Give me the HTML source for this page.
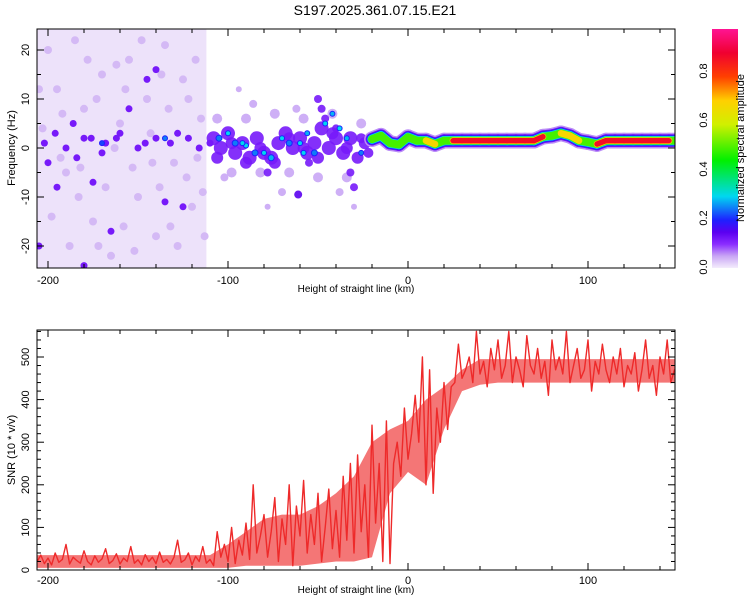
<!DOCTYPE html>
<html><head><meta charset="utf-8"><style>
body{margin:0;background:#fff}
svg{display:block;font-family:"Liberation Sans",sans-serif}
</style></head><body>
<svg id="s" width="750" height="600" viewBox="0 0 750 600">
<defs>
<linearGradient id="cb" x1="0" y1="1" x2="0" y2="0">
<stop offset="0" stop-color="#f4ecfc"/><stop offset="0.05" stop-color="#c9a6f5"/><stop offset="0.1" stop-color="#8a2cff"/><stop offset="0.15" stop-color="#5a00f0"/><stop offset="0.2" stop-color="#1e20ff"/><stop offset="0.3" stop-color="#00d8f0"/><stop offset="0.45" stop-color="#00f000"/><stop offset="0.6" stop-color="#d0f000"/><stop offset="0.7" stop-color="#ffd000"/><stop offset="0.8" stop-color="#ff4000"/><stop offset="0.9" stop-color="#f00030"/><stop offset="1" stop-color="#ff1493"/>
</linearGradient>
<clipPath id="c1"><rect x="37" y="29" width="638" height="239"/></clipPath>
<clipPath id="c2"><rect x="37" y="330" width="638" height="240"/></clipPath>
</defs>
<text x="375" y="15" font-size="14" text-anchor="middle">S197.2025.361.07.15.E21</text>
<g id="spec" clip-path="url(#c1)"></g>
<g id="snr" clip-path="url(#c2)"></g>
<g id="axes"></g>
<rect x="712" y="29" width="26" height="239" fill="url(#cb)"/>
<text transform="translate(744,148) rotate(-90)" font-size="11" text-anchor="middle">Normalized spectral amplitude</text>
</svg>
<script>
// ---- data ----
var snrStart = -206, snrStep = 2;
var snrValues = [20,35,15,28,12,40,18,25,60,14,30,22,16,45,20,12,33,18,26,50,15,22,38,14,28,20,55,16,24,12,36,20,30,15,42,18,25,14,30,70,18,24,40,12,32,20,55,16,
25,10,90,30,60,20,100,15,70,35,110,25,200,40,80,
130,30,90,170,20,120,60,200,10,150,80,210,40,130,60,180,20,100,190,50,
140,30,220,70,250,40,270,90,200,30,340,110,250,20,
350,15,
250,300,220,380,260,320,410,300,500,200,470,180,380,300,440,330,430,
440,530,450,470,500,440,560,460,490,430,520,470,540,450,480,560,440,500,470,430,550,480,460,520,450,490,410,540,470,500,460,560,440,480,520,450,470,540,420,490,460,530,470,440,500,460,520,430,480,460,510,420,470,540,450,480,410,500,460,540,440,470,450];
var envStart = -200, envStep = 10;
var snrLow = [5,5,5,5,5,5,5,5,5,5, 5,10,10,10,10,15,20,20,30,180,230,200,330,420, 435,440,440,440,440,440,440,440,440,440,440,440];
var snrHigh = [35,35,35,35,35,35,35,35,35,35, 60,90,120,130,130,150,180,220,300,330,350,400,430,470, 495,495,495,495,495,495,495,495,495,495,495,495];
var ridgeH = [-20,-15,-10,-5,0,5,10,15,20,25,30,35,40,45,50,55,60,65,70,75,80,85,90,95,100,105,110,115,120,125,130,135,140,145,150];
var ridgeF = [1.8,2.5,1,0.7,2.2,1.5,1.5,0.8,1.5,1.5,1.5,1.5,1.5,1.5,1.5,1.5,1.5,1.5,1.5,2.3,2.5,3,2.5,1.5,1.2,0.8,1.5,1.5,1.5,1.5,1.5,1.5,1.5,1.5,1.5];
var ridgeA = [0.5,0.7,0.6,0.7,0.5,0.6,0.7,0.75,0.6,0.9,0.9,0.9,0.9,0.9,0.9,0.9,0.9,0.85,0.8,0.85,0.6,0.9,0.7,0.85,0.6,0.9,0.9,0.9,0.9,0.9,0.9,0.9,0.9,0.85,0.6];
var midBlobs = [[-108,2,0.12,7],[-104,0,0.12,7],[-100,3,0.12,7],[-96,-1,0.12,7],[-92,1,0.12,7],[-88,-2,0.12,7],[-84,2,0.12,7],[-80,-1,0.12,7],[-76,-2,0.12,7],[-72,1,0.12,7],[-68,3,0.12,7],[-64,0,0.12,7],[-60,2,0.12,7],[-56,-1,0.12,7],[-52,1,0.12,7],[-48,4,0.12,7],[-44,0,0.12,7],[-40,2,0.12,7],[-36,-1,0.12,7],[-32,2,0.12,7],[-28,-2,0.12,6],[-24,1,0.12,6],[-22,-1,0.12,5],
[-106,-2,0.12,6],[-98,1,0.12,6],[-90,-3,0.12,6],[-82,0,0.12,6],[-74,-3,0.12,6],[-66,2,0.12,6],[-58,0,0.12,6],[-50,-2,0.12,6],[-42,3,0.12,6],[-34,0,0.12,6],[-26,2,0.12,5],
[-106,6,0.05,5],[-98,-5,0.05,5],[-90,6,0.05,5],[-82,-5,0.05,5],[-74,7,0.05,5],[-66,-5,0.05,5],[-58,6,0.05,5],[-50,-6,0.05,5],[-42,7,0.05,5],[-34,-6,0.05,5],[-26,5,0.05,5],[-102,-6,0.05,4],[-86,9,0.05,4],[-70,-9,0.05,4],[-62,8,0.05,4],[-38,-9,0.05,4],[-30,-12,0.05,3],[-94,12,0.05,3],[-78,-12,0.05,3],
[-50,10,0.12,4],[-48,8,0.12,4],[-46,6,0.12,4],[-40,4,0.12,4],[-32,-5,0.12,4],[-30,-8,0.12,4],[-61,-9.5,0.15,4],[-78,-5,0.12,4],[-55,-3,0.12,4]];
var dotBlobs = [[-105,2,0.25,3],[-100,3,0.3,2.5],[-96,1,0.25,3],[-90,0.5,0.3,2.5],[-85,-1,0.25,3],[-80,-1,0.3,2.5],[-76,-2,0.28,3],[-70,2,0.3,2.5],[-66,1,0.25,3],[-60,1,0.3,2.5],[-56,3,0.28,2.5],[-52,-1,0.25,3],[-46,5,0.3,2.5],[-42,7,0.28,2.5],[-38,4,0.3,2.5],[-34,2,0.28,2.5],[-26,-1,0.25,2.5],[-92,1,0.3,2.5],[-58,-1,0.3,2.5],[-135,2,0.25,2.5],[-170,1,0.22,2.5]];
var lightBlobs = [[-200,20],[-195,12],[-190,-5],[-185,22],[-180,8],[-175,-15],[-170,15],[-165,-22],[-160,5],[-155,18],[-150,-10],[-145,10],[-140,-18],[-135,21],[-130,-3],[-125,14],[-120,-12],[-115,6],[-198,-14],[-188,-20],[-178,18],[-168,-8],[-158,-16],[-148,22],[-138,-8],[-128,-20],[-118,18],[-203,4],[-193,-2],[-183,-10],[-173,10],[-163,0],[-153,-4],[-143,3],[-133,8],[-123,-6],[-113,-18],[-157,12],[-137,15],[-117,-2],[-205,12],[-192,7],[-182,-4],[-172,-20],[-162,17],[-152,-21],[-142,-3],[-132,-16],[-122,10],[-114,-9]];
var purpleBlobs = [[-202,1],[-196,3],[-190,0],[-184,-2],[-176,2],[-168,1],[-160,3],[-150,0],[-140,2],[-132,1],[-122,2],[-116,0],[-195,-8],[-175,-7],[-165,-17],[-155,8],[-145,14],[-135,-11],[-125,-12],[-205,-20],[-180,-24],[-140,16],[-170,-1],[-186,5],[-200,-3],[-162,2],[-146,1],[-128,3],[-110,1],[-180,2]];
var xTickLabels = [-200,-100,0,100];
var freqTickLabels = [-20,-10,0,10,20];
var snrTickLabels = [0,100,200,300,400,500];
var cbTickLabels = [0.0,0.2,0.4,0.6,0.8];

// ---- scales ----
function X(h){return 408 + h*1.8;}
function YF(f){return 148 - f*4.9;}
function YS(v){return 570 - v*0.426;}
function YC(a){return 267 - a*245;}
var stops=[[0,[244,236,252]],[0.05,[201,166,245]],[0.1,[138,44,255]],[0.15,[90,0,240]],[0.2,[30,32,255]],[0.3,[0,216,240]],[0.45,[0,240,0]],[0.6,[208,240,0]],[0.7,[255,208,0]],[0.8,[255,64,0]],[0.9,[240,0,48]],[1,[255,20,147]]];
function cmap(a){for(var i=1;i<stops.length;i++){if(a<=stops[i][0]){var s0=stops[i-1],s1=stops[i],t=(a-s0[0])/(s1[0]-s0[0]);var c=s0[1].map(function(v,k){return Math.round(v+(s1[1][k]-v)*t);});return 'rgb('+c.join(',')+')';}}return 'rgb(255,20,147)';}
var NS='http://www.w3.org/2000/svg';
function mk(t,attrs,parent){var e=document.createElementNS(NS,t);for(var k in attrs)e.setAttribute(k,attrs[k]);parent.appendChild(e);return e;}

// ---- spectrogram ----
var spec=document.getElementById('spec');
var bg=mk('rect',{x:X(-206),y:29,width:X(-112)-X(-206),height:239,fill:'#ede2fa'},spec);


lightBlobs.forEach(function(b){var c=mk('circle',{cx:X(b[0]),cy:YF(b[1]),r:4,fill:'#d4b9f5'},spec);

});
purpleBlobs.forEach(function(b){var c=mk('circle',{cx:X(b[0]),cy:YF(b[1]),r:3.5,fill:cmap(0.12)},spec);

});
midBlobs.forEach(function(b){var c=mk('circle',{cx:X(b[0]),cy:YF(b[1]),r:b[3],fill:cmap(b[2]),opacity:0.9},spec);

});
dotBlobs.forEach(function(b){var c=mk('circle',{cx:X(b[0]),cy:YF(b[1]),r:b[3],fill:cmap(b[2]),stroke:cmap(0.2),'stroke-width':1},spec);

});
var layers=[[0,1.6,0.06],[0,1.3,0.13],[0,1.1,0.2],[0.45,0.95,0.3],[0.5,0.8,0.5],[0.7,0.68,0.68],[0.8,0.55,0.88]];
layers.forEach(function(L){
  for(var i=0;i<ridgeH.length-1;i++){
    if(Math.min(ridgeA[i],ridgeA[i+1])<L[0]) continue;
    var ln=mk('line',{x1:X(ridgeH[i]),y1:YF(ridgeF[i]),x2:X(ridgeH[i+1]),y2:YF(ridgeF[i+1]),stroke:cmap(L[2]),'stroke-width':L[1]*2*4.9,'stroke-linecap':'round'},spec);
    
    
  }
});

// ---- SNR ----
var snr=document.getElementById('snr');
var ep=[];
snrHigh.forEach(function(v,i){ep.push(X(envStart+i*envStep).toFixed(1)+','+YS(v).toFixed(1));});
for(var i=snrLow.length-1;i>=0;i--){ep.push(X(envStart+i*envStep).toFixed(1)+','+YS(snrLow[i]).toFixed(1));}
ep.unshift(X(-210)+','+YS(snrHigh[0]));ep.push(X(-210)+','+YS(snrLow[0]));
var band=mk('polygon',{points:ep.join(' '),fill:'#f04848',opacity:0.75},snr);


var pts=snrValues.map(function(v,i){return X(snrStart+i*snrStep).toFixed(1)+','+YS(v).toFixed(1);}).join(' ');
var pl=mk('polyline',{points:pts,fill:'none',stroke:'#ee2a2a','stroke-width':1.4,'stroke-linejoin':'round'},snr);



// ---- axes ----
var ax=document.getElementById('axes');
function frame(y0,y1,name){var r=mk('rect',{x:37,y:y0,width:638,height:y1-y0,fill:'none',stroke:'#000','stroke-width':1},ax);

}
frame(29,268,'top-plot-frame');frame(330,570,'bottom-plot-frame');
function tickX(y0,y1,labY){
  for(var h=-200;h<=140;h+=20){var big=(h%100===0);var L=big?7:4;
    mk('line',{x1:X(h),y1:y1,x2:X(h),y2:y1-L,stroke:'#000'},ax);
    mk('line',{x1:X(h),y1:y0,x2:X(h),y2:y0+L,stroke:'#000'},ax);}
  xTickLabels.forEach(function(h){var t=mk('text',{x:X(h),y:labY,'font-size':11,'text-anchor':'middle'},ax);t.textContent=h;
  
  });
}
tickX(29,268,284);tickX(330,570,584);
[[292,'x-axis-title-top'],[593,'x-axis-title-bottom']].forEach(function(p){var t=mk('text',{x:356,y:p[0],'font-size':10,'text-anchor':'middle'},ax);t.textContent='Height of straight line (km)';

});
for(var f=-20;f<=20;f+=5){var L=(f%10===0)?7:4;mk('line',{x1:37,y1:YF(f),x2:37+L,y2:YF(f),stroke:'#000'},ax);mk('line',{x1:675,y1:YF(f),x2:675-L,y2:YF(f),stroke:'#000'},ax);}
freqTickLabels.forEach(function(f){var t=mk('text',{transform:'translate(29,'+YF(f)+') rotate(-90)','font-size':11,'text-anchor':'middle'},ax);t.textContent=f;

});
for(var v=0;v<=560;v+=20){var L=(v%100===0)?7:4;mk('line',{x1:37,y1:YS(v),x2:37+L,y2:YS(v),stroke:'#000'},ax);mk('line',{x1:675,y1:YS(v),x2:675-L,y2:YS(v),stroke:'#000'},ax);}
snrTickLabels.forEach(function(v){var t=mk('text',{transform:'translate(29,'+YS(v)+') rotate(-90)','font-size':11,'text-anchor':'middle'},ax);t.textContent=v;

});
cbTickLabels.forEach(function(a){var t=mk('text',{transform:'translate(707,'+YC(a)+') rotate(-90)','font-size':11,'text-anchor':'middle'},ax);t.textContent=a.toFixed(1);

});
var yt1=mk('text',{transform:'translate(15,148) rotate(-90)','font-size':11,'text-anchor':'middle'},ax);yt1.textContent='Frequency (Hz)';


var yt2=mk('text',{transform:'translate(15,450) rotate(-90)','font-size':11,'text-anchor':'middle'},ax);yt2.textContent='SNR (10 * v/v)';


</script>
</body></html>
